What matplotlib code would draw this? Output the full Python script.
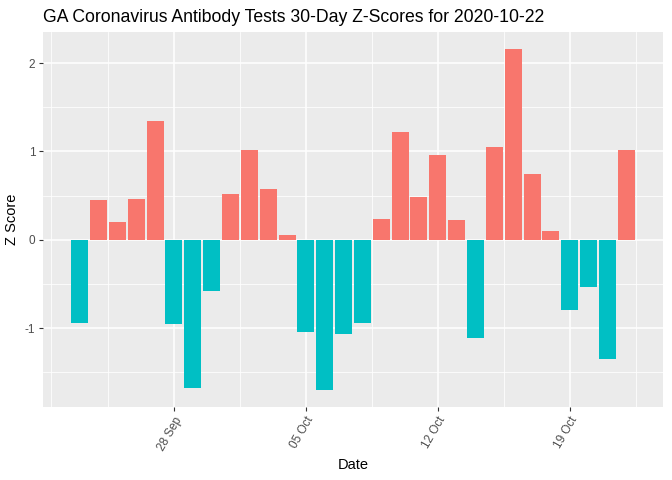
import pandas as pd
import matplotlib.pyplot as plt
import matplotlib.dates as mdates

# data
days = ["2020-09-23", "2020-09-24", "2020-09-25", "2020-09-26", "2020-09-27",
        "2020-09-28", "2020-09-29", "2020-09-30", "2020-10-01", "2020-10-02",
        "2020-10-03", "2020-10-04", "2020-10-05", "2020-10-06", "2020-10-07",
        "2020-10-08", "2020-10-09", "2020-10-10", "2020-10-11", "2020-10-12",
        "2020-10-13", "2020-10-14", "2020-10-15", "2020-10-16", "2020-10-17",
        "2020-10-18", "2020-10-19", "2020-10-20", "2020-10-21", "2020-10-22"]
zscores = [-0.94, 0.45, 0.20, 0.46, 1.35, -0.95, -1.68, -0.58, 0.52, 1.02,
           0.57, 0.06, -1.04, -1.70, -1.07, -0.94, 0.24, 1.22, 0.49, 0.96,
           0.22, -1.11, 1.05, 2.16, 0.74, 0.10, -0.80, -0.53, -1.35, 1.02]
major_ticks = ["2020-09-28", "2020-10-05", "2020-10-12", "2020-10-19"]
minor_ticks = ["2020-09-21 12:00", "2020-09-24 12:00", "2020-10-01 12:00", "2020-10-08 12:00",
               "2020-10-15 12:00", "2020-10-22 12:00"]

plt.rcParams['font.family'] = ['Liberation Sans', 'DejaVu Sans']

dates = pd.to_datetime(days)
cols = ["#F8766D" if z > 0 else "#00BFC4" for z in zscores]

fig = plt.figure(figsize=(6.72, 4.8), dpi=100)
ax = fig.add_axes([43/672, 73/480, 620/672, 375/480])
ax.set_facecolor("#EBEBEB")
ax.bar(dates, zscores, width=0.9, color=cols, zorder=3)

# ggplot style 5% expansion
x0 = mdates.date2num(dates[0]) - 0.45
x1 = mdates.date2num(dates[-1]) + 0.45
dx = (x1 - x0) * 0.05
ax.set_xlim(x0 - dx, x1 + dx)
lo, hi = min(zscores), max(zscores)
dy = (hi - lo) * 0.05
ax.set_ylim(lo - dy, hi + dy)

ax.set_xticks(pd.to_datetime(major_ticks))
ax.set_xticks(pd.to_datetime(minor_ticks), minor=True)
ax.xaxis.set_major_formatter(mdates.DateFormatter("%d %b"))
ax.set_yticks([-1, 0, 1, 2])
ax.set_yticklabels(["-1", "0", "1", "2"])
ax.set_yticks([-1.5, -0.5, 0.5, 1.5], minor=True)

ax.grid(which="major", color="white", linewidth=1.1, zorder=0)
ax.grid(which="minor", color="white", linewidth=0.55, zorder=0)
ax.set_axisbelow(True)
for s in ax.spines.values():
    s.set_visible(False)

ax.tick_params(which="major", length=3, width=0.8, color="#333333", labelcolor="#4D4D4D",
               labelsize=8.5, pad=2.5)
ax.tick_params(which="minor", length=0)
for lab in ax.get_xticklabels():
    lab.set_rotation(60)
    lab.set_ha("right")
    lab.set_va("top")
    lab.set_rotation_mode("anchor")

ax.set_xlabel("Date", fontsize=10.5, color="black", labelpad=4)
ax.set_ylabel("Z Score", fontsize=10.5, color="black", labelpad=4)
fig.text(43/672, 1 - 22/480, "GA Coronavirus Antibody Tests 30-Day Z-Scores for 2020-10-22",
         fontsize=12.7, color="black", ha="left", va="baseline")

fig.savefig("out.png", dpi=100)
